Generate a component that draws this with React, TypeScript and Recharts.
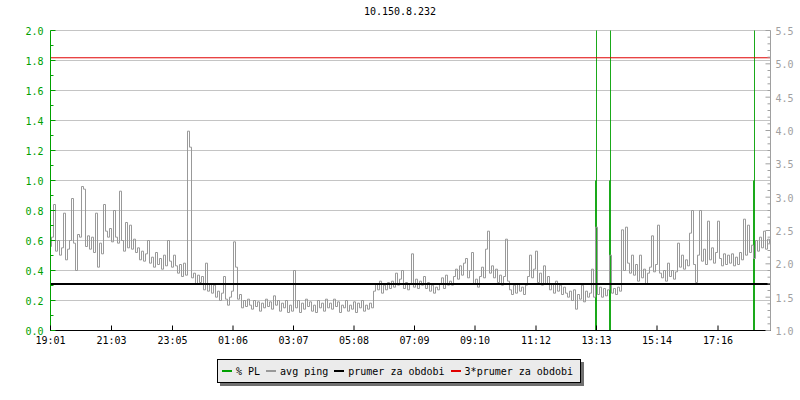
import { Bar, CartesianGrid, ComposedChart, Line, ReferenceLine, XAxis, YAxis } from 'recharts'

const FONT = '"DejaVu Sans Mono", monospace'
const GREEN = '#00a000'
const PING_GRAY = '#999999'
const AXIS_GRAY = '#a0a0a0'
const GRID_GRAY = '#c4c4c4'
const RED = '#e00000'

const title = '10.150.8.232'

// minutes from 19:01, avg ping sampled every 4 minutes
const pingStepMin = 4
const pingMs = [
  2.26, 2.40, 2.89, 2.19, 2.35, 2.13, 2.24, 2.76, 2.06, 2.22,
  2.35, 2.98, 2.31, 1.90, 2.44, 2.40, 3.16, 3.12, 2.26, 2.42,
  2.22, 2.40, 2.17, 2.76, 1.95, 2.31, 2.15, 2.89, 2.49, 2.40,
  2.53, 2.33, 2.80, 2.40, 2.31, 3.09, 2.35, 2.19, 2.62, 2.24,
  2.58, 2.22, 2.37, 2.17, 2.24, 2.06, 2.19, 2.04, 2.15, 2.35,
  2.01, 2.10, 1.95, 2.17, 1.99, 2.08, 1.92, 2.13, 1.97, 2.35,
  2.04, 1.95, 2.13, 1.97, 1.86, 1.99, 1.81, 2.01, 1.83, 3.99,
  3.75, 1.79, 1.86, 1.70, 1.83, 1.72, 1.81, 1.61, 2.01, 1.59,
  1.70, 1.56, 1.68, 1.50, 1.59, 1.45, 1.56, 1.81, 1.47, 1.38,
  1.50, 1.59, 2.33, 1.95, 1.47, 1.54, 1.34, 1.45, 1.36, 1.47,
  1.38, 1.32, 1.45, 1.36, 1.43, 1.29, 1.41, 1.34, 1.47, 1.36,
  1.43, 1.32, 1.52, 1.38, 1.45, 1.29, 1.41, 1.34, 1.45, 1.27,
  1.38, 1.29, 1.90, 1.34, 1.45, 1.27, 1.41, 1.32, 1.47, 1.36,
  1.43, 1.29, 1.38, 1.27, 1.45, 1.34, 1.41, 1.29, 1.47, 1.34,
  1.41, 1.32, 1.47, 1.36, 1.43, 1.27, 1.38, 1.34, 1.45, 1.29,
  1.38, 1.32, 1.43, 1.27, 1.41, 1.34, 1.45, 1.29, 1.38, 1.32,
  1.41, 1.34, 1.59, 1.70, 1.61, 1.74, 1.56, 1.68, 1.61, 1.72,
  1.63, 1.74, 1.65, 1.86, 1.68, 1.77, 1.90, 1.63, 1.72, 1.61,
  1.70, 2.15, 1.65, 1.77, 1.63, 1.74, 1.68, 1.81, 1.63, 1.72,
  1.59, 1.68, 1.56, 1.65, 1.61, 1.70, 1.79, 1.63, 1.83, 1.68,
  1.74, 1.68, 1.81, 1.92, 1.77, 1.97, 1.83, 2.01, 2.08, 1.79,
  1.90, 2.17, 1.70, 1.77, 1.65, 1.81, 1.95, 1.79, 2.22, 2.49,
  1.86, 1.97, 1.79, 1.92, 1.72, 1.83, 1.68, 1.81, 2.37, 1.74,
  1.61, 1.54, 1.68, 1.56, 1.70, 1.59, 1.65, 1.54, 1.68, 1.81,
  2.13, 1.79, 1.92, 2.19, 1.72, 1.86, 1.68, 1.97, 1.70, 1.81,
  1.61, 1.70, 1.56, 1.74, 1.59, 1.68, 1.54, 1.65, 1.56, 1.50,
  1.59, 1.45, 1.61, 1.32, 1.54, 1.47, 1.68, 1.43, 1.59, 1.50,
  1.56, 1.92, 1.50, 2.55, 1.54, 1.65, 1.50, 1.63, 1.52, 1.61,
  2.13, 1.56, 1.63, 1.54, 1.65, 1.59, 2.51, 1.90, 2.55, 2.01,
  1.86, 2.13, 1.83, 1.99, 1.74, 2.13, 1.79, 1.92, 1.70, 1.86,
  1.95, 2.42, 1.88, 1.99, 2.58, 1.86, 1.79, 1.90, 1.74, 2.01,
  1.81, 1.90, 1.77, 1.88, 2.31, 1.95, 2.13, 1.92, 2.06, 1.97,
  2.46, 2.80, 1.99, 1.72, 2.13, 2.80, 2.04, 2.22, 1.99, 2.64,
  2.06, 2.24, 2.01, 2.17, 2.64, 2.08, 1.97, 2.15, 1.99, 2.13,
  2.01, 2.15, 1.97, 2.10, 1.99, 2.17, 2.06, 2.67, 2.13, 2.58,
  2.17, 2.28, 2.08, 2.35, 2.19, 2.40, 2.24, 2.49, 2.22, 2.37,
  2.31,
]

// % PL is 0 except in three short outages (100 = far above the scale)
const plMinutes = [1090, 1092, 1118, 1120, 1406, 1408]
const plPercent = [1, 100, 1, 100, 1, 100]

const avgPingMs = 1.697

const timeTicks = [0, 122, 244, 365, 486, 607, 728, 849, 971, 1092, 1213, 1335]
const timeLabels = ['19:01', '21:03', '23:05', '01:06', '03:07', '05:08', '07:09', '09:10', '11:12', '13:13', '15:14', '17:16']

const plTicks = [0, 0.1, 0.2, 0.3, 0.4, 0.5, 0.6, 0.7, 0.8, 0.9, 1.0, 1.1, 1.2, 1.3, 1.4, 1.5, 1.6, 1.7, 1.8, 1.9, 2.0]
const plGrid = [0.2, 0.4, 0.6, 0.8, 1.0, 1.2, 1.4, 1.6, 1.8, 2.0]
const pingTicks = [
  1.0, 1.1, 1.2, 1.3, 1.4, 1.5, 1.6, 1.7, 1.8, 1.9, 2.0, 2.1, 2.2, 2.3, 2.4, 2.5,
  2.6, 2.7, 2.8, 2.9, 3.0, 3.1, 3.2, 3.3, 3.4, 3.5, 3.6, 3.7, 3.8, 3.9, 4.0, 4.1,
  4.2, 4.3, 4.4, 4.5, 4.6, 4.7, 4.8, 4.9, 5.0, 5.1, 5.2, 5.3, 5.4, 5.5,
]

type Row = { t: number; ping?: number; pl?: number }
const rows = new Map<number, Row>()
pingMs.forEach((v, i) => rows.set(i * pingStepMin, { t: i * pingStepMin, ping: v }))
plMinutes.forEach((t, i) => rows.set(t, { ...(rows.get(t) ?? { t }), pl: plPercent[i] }))
const chartData = [...rows.values()].sort((a, b) => a.t - b.t)

const legendItems = [
  { label: '% PL', color: GREEN },
  { label: 'avg ping', color: PING_GRAY },
  { label: 'prumer za obdobi', color: '#000000' },
  { label: '3*prumer za obdobi', color: RED },
]

const onStep = (v: number, step: number) => Math.abs(v / step - Math.round(v / step)) < 1e-6

function PlTick({ x, y, payload }: any) {
  const v = payload.value
  const major = onStep(v, 0.2)
  const axisX = x + 7
  return (
    <g>
      <line x1={axisX} x2={axisX + (major ? 5 : 3)} y1={y} y2={y} stroke={GREEN} />
      {major && (
        <text x={x} y={y} dy={4} textAnchor="end" fill={GREEN} fontSize={10} fontFamily={FONT}>
          {v.toFixed(1)}
        </text>
      )}
    </g>
  )
}

function PingTick({ x, y, payload }: any) {
  const v = payload.value
  const major = onStep(v, 0.5)
  const axisX = x - 5
  return (
    <g>
      <line x1={axisX - (major ? 5 : 3)} x2={axisX} y1={y} y2={y} stroke={AXIS_GRAY} />
      {major && (
        <text x={x} y={y} dy={4.4} textAnchor="start" fill={AXIS_GRAY} fontSize={10} fontFamily={FONT}>
          {v.toFixed(1)}
        </text>
      )}
    </g>
  )
}

function TimeTick({ x, y, payload }: any) {
  const axisY = y - 6
  const label = timeLabels[timeTicks.indexOf(payload.value)]
  return (
    <g>
      <line x1={x} x2={x} y1={axisY - 5} y2={axisY} stroke="#000" />
      <text x={x} y={y} dy={7.5} textAnchor="middle" fill="#000" fontSize={10} fontFamily={FONT}>
        {label}
      </text>
    </g>
  )
}

export default function App() {
  return (
    <div style={{ position: 'absolute', left: 0, top: 0, width: 800, height: 400, background: '#fff', fontFamily: FONT }}>
      <div style={{ position: 'absolute', left: 0, top: 6, width: 800, textAlign: 'center', fontSize: 10, lineHeight: '12px' }}>
        {title}
      </div>

      <ComposedChart
        width={800}
        height={400}
        data={chartData}
        margin={{ top: 30.5, right: 0, bottom: 49.5, left: 0 }}
      >
        <CartesianGrid yAxisId="left" vertical={false} horizontalValues={plGrid} stroke={GRID_GRAY} />
        <YAxis
          yAxisId="left"
          orientation="left"
          width={50.5}
          domain={[0, 2]}
          ticks={plTicks}
          interval={0}
          allowDataOverflow
          tickSize={0}
          tickMargin={7}
          tickLine={false}
          axisLine={{ stroke: GREEN }}
          tick={<PlTick />}
        />
        <YAxis
          yAxisId="right"
          orientation="right"
          width={29.5}
          domain={[1, 5.5]}
          ticks={pingTicks}
          interval={0}
          allowDataOverflow
          tickSize={0}
          tickMargin={5}
          tickLine={false}
          axisLine={{ stroke: AXIS_GRAY }}
          tick={<PingTick />}
        />
        <XAxis
          dataKey="t"
          type="number"
          domain={[0, 1440]}
          ticks={timeTicks}
          interval={0}
          height={20}
          tickSize={0}
          tickMargin={6}
          tickLine={false}
          axisLine={{ stroke: '#000' }}
          tick={<TimeTick />}
        />
        <Bar yAxisId="left" dataKey="pl" fill={GREEN} barSize={1} isAnimationActive={false} />
        <Line
          yAxisId="right"
          dataKey="ping"
          type="step"
          stroke={PING_GRAY}
          strokeWidth={1}
          dot={false}
          activeDot={false}
          connectNulls
          isAnimationActive={false}
        />
        <ReferenceLine yAxisId="right" y={avgPingMs} stroke="#000" strokeWidth={2} />
        <ReferenceLine yAxisId="right" y={avgPingMs * 3} stroke={RED} strokeWidth={1} />
      </ComposedChart>

      <div
        style={{
          position: 'absolute',
          left: 217,
          top: 359,
          width: 364,
          height: 24,
          boxSizing: 'border-box',
          border: '1px solid #000',
          background: '#ebebeb',
          boxShadow: '3px 3px 0 #707070',
          display: 'flex',
          alignItems: 'center',
          paddingLeft: 4,
          fontSize: 10,
          whiteSpace: 'nowrap',
        }}
      >
        {legendItems.map((item) => (
          <span key={item.label} style={{ display: 'flex', alignItems: 'center', marginRight: 6 }}>
            <span style={{ display: 'inline-block', width: 10, height: 2, background: item.color, marginRight: 4 }} />
            <span>{item.label}</span>
          </span>
        ))}
      </div>
    </div>
  )
}
